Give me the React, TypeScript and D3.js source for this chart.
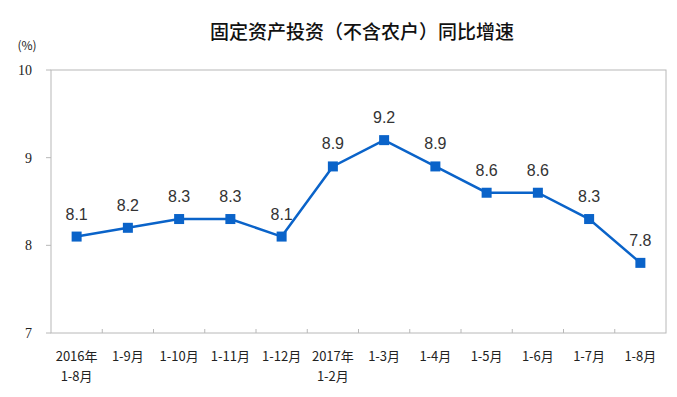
import React from "react";
import * as d3 from "d3";

const categories = ["2016年\n1-8月", "1-9月", "1-10月", "1-11月", "1-12月", "2017年\n1-2月", "1-3月", "1-4月", "1-5月", "1-6月", "1-7月", "1-8月"];
const values = [8.1, 8.2, 8.3, 8.3, 8.1, 8.9, 9.2, 8.9, 8.6, 8.6, 8.3, 7.8];
const yTicks = [7, 8, 9, 10];
const title = "固定资产投资（不含农户）同比增速";
const unit = "(%)";

export default function App() {
  const W = 677, H = 397;
  const left = 51, right = 666, top = 70, bottom = 333;
  const x = d3.scaleBand<number>().domain(d3.range(categories.length)).range([left, right]);
  const y = d3.scaleLinear().domain([7, 10]).range([bottom, top]);
  const cx = (i: number) => (x(i) as number) + x.bandwidth() / 2;
  const line = d3.line<number>().x((_, i) => cx(i)).y((d) => y(d));
  const blue = "#0a63c9";
  const cjk = "'Noto Sans CJK SC', sans-serif";
  return (
    <svg width={W} height={H} style={{ position: "absolute", left: 0, top: 0, background: "#fff" }}>
      <rect x={0} y={0} width={W} height={H} fill="#fff" />
      <text x={362} y={39} textAnchor="middle" fontFamily={cjk} fontSize={19} fontWeight={500} fill="#111">{title}</text>
      <text x={27} y={50} textAnchor="middle" fontFamily={cjk} fontSize={12} fill="#222">{unit}</text>
      <rect x={left} y={top} width={right - left} height={bottom - top} fill="none" stroke="#b8b8b8" strokeWidth={1} />
      {yTicks.map((t) => (
        <g key={t}>
          <line x1={left - 5} x2={left} y1={y(t)} y2={y(t)} stroke="#b8b8b8" />
          <text x={32} y={y(t) + 5} textAnchor="end" fontFamily="'Liberation Serif', serif" fontSize={14} fill="#222">{t}</text>
        </g>
      ))}
      {d3.range(1, categories.length).map((i) => (
        <line key={i} x1={x(i) as number} x2={x(i) as number} y1={bottom} y2={bottom - 4} stroke="#b8b8b8" />
      ))}
      {categories.map((c, i) => (
        <text key={i} textAnchor="middle" fontFamily={cjk} fontSize={13} fill="#222">
          {c.split("\n").map((s, j) => (
            <tspan key={j} x={cx(i)} y={361 + j * 20}>{s}</tspan>
          ))}
        </text>
      ))}
      <path d={line(values) || ""} fill="none" stroke={blue} strokeWidth={2.5} />
      {values.map((v, i) => (
        <g key={i}>
          <rect x={cx(i) - 5} y={y(v) - 5} width={10} height={10} fill={blue} />
          <text x={cx(i)} y={y(v) - 17} textAnchor="middle" fontFamily="'Liberation Sans', Arial, sans-serif" fontSize={16} fill="#333">{v.toFixed(1)}</text>
        </g>
      ))}
    </svg>
  );
}
